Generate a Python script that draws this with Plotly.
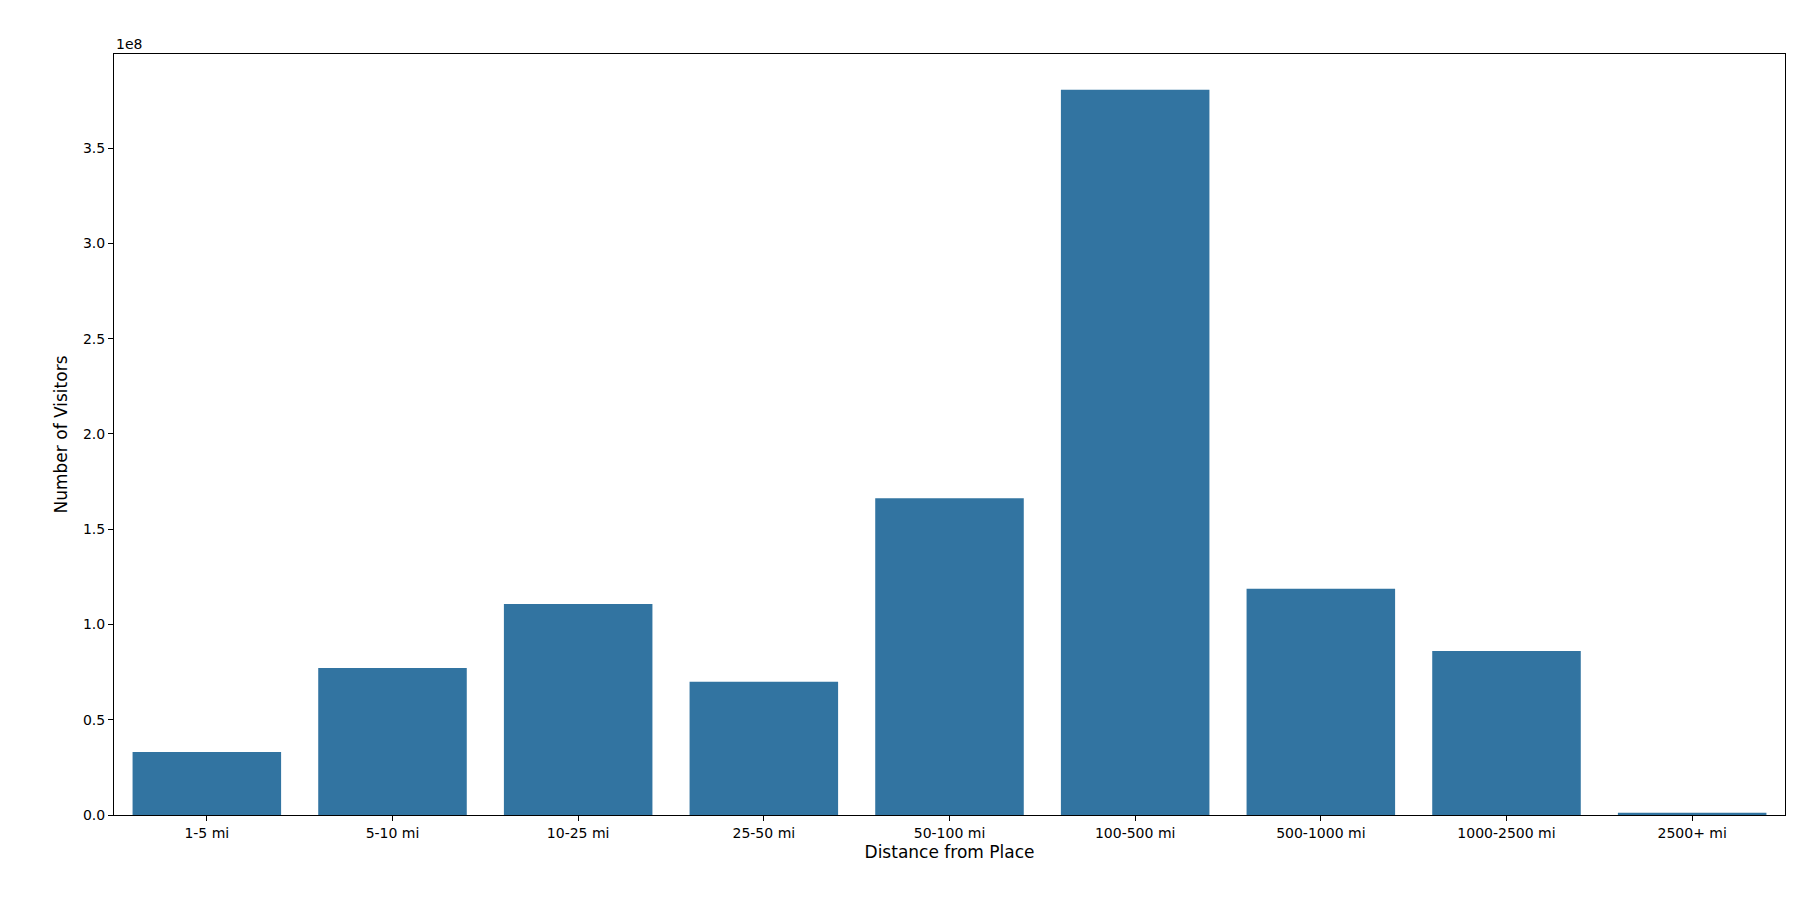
import plotly.graph_objects as go

categories = ["1-5 mi", "5-10 mi", "10-25 mi", "25-50 mi", "50-100 mi",
              "100-500 mi", "500-1000 mi", "1000-2500 mi", "2500+ mi"]
visitors = [0.331e8, 0.771e8, 1.108e8, 0.699e8, 1.663e8,
            3.807e8, 1.187e8, 0.861e8, 0.012e8]
ytick_vals = [0, 0.5e8, 1.0e8, 1.5e8, 2.0e8, 2.5e8, 3.0e8, 3.5e8]
ytick_text = ["0.0", "0.5", "1.0", "1.5", "2.0", "2.5", "3.0", "3.5"]

fig = go.Figure(go.Bar(x=list(range(len(categories))), y=visitors, width=0.8,
                       marker=dict(color="#3274a1", line=dict(width=0))))
axis_common = dict(showgrid=False, zeroline=False, showline=True, mirror=True,
                   linecolor="black", linewidth=1, ticks="outside", ticklen=5,
                   tickcolor="black", tickfont=dict(size=14, color="black"))
fig.update_layout(
    width=1800, height=900, plot_bgcolor="white", paper_bgcolor="white",
    margin=dict(l=106, r=23, t=46, b=93),
    font=dict(family="DejaVu Sans", color="black"),
    xaxis=dict(**axis_common, range=[-0.5, 8.5], tickvals=list(range(len(categories))),
               ticktext=categories,
               title=dict(text="Distance from Place", font=dict(size=17), standoff=6)),
    yaxis=dict(**axis_common, range=[0, 3.994e8], tickvals=ytick_vals, ticktext=ytick_text,
               title=dict(text="Number of Visitors", font=dict(size=17), standoff=10)),
    showlegend=False,
    annotations=[dict(text="1e8", xref="paper", yref="paper", x=0, y=1,
                      xanchor="left", yanchor="bottom", showarrow=False,
                      font=dict(size=14, color="black"), yshift=0)],
)
fig.write_html("out.html")
